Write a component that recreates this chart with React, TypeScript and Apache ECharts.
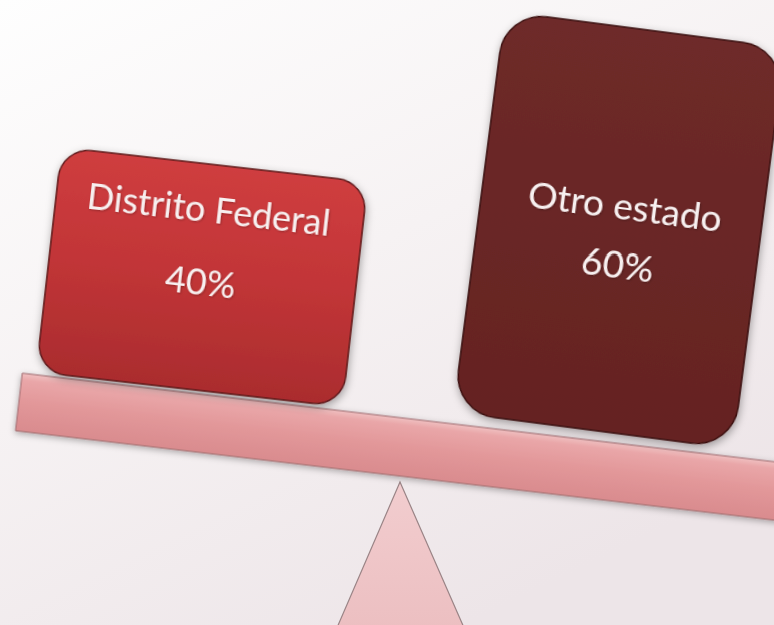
import React, { useEffect, useRef } from "react";
import * as echarts from "echarts";

const categories = ["Distrito Federal", "Otro estado"];
const values = [40, 60];
const unit = "%";

const W = 774;
const H = 625;
const DEG = Math.PI / 180;

function lin(x: number, y: number, x2: number, y2: number, stops: [number, string][]) {
  return new echarts.graphic.LinearGradient(
    x, y, x2, y2,
    stops.map(([offset, color]) => ({ offset, color }))
  );
}

function box(
  cx: number, cy: number, w: number, h: number, r: number, ang: number,
  fill: any, stroke: string, name: string, val: number,
  t1y: number, t2y: number, tx: number, fs: number
) {
  const textStyle = {
    fill: "#f7f0f0",
    fontSize: fs,
    fontFamily: "Lato, 'Open Sans', sans-serif",
    align: "center",
    verticalAlign: "middle",
    textShadowColor: "rgba(0,0,0,0.25)",
    textShadowBlur: 2,
    textShadowOffsetX: 1,
    textShadowOffsetY: 1,
  };
  return {
    type: "group",
    x: cx,
    y: cy,
    rotation: -ang * DEG,
    children: [
      {
        type: "rect",
        shape: { x: -w / 2, y: -h / 2, width: w, height: h, r },
        style: {
          fill,
          stroke,
          lineWidth: 1.5,
          shadowBlur: 8,
          shadowColor: "rgba(0,0,0,0.35)",
          shadowOffsetX: 1,
          shadowOffsetY: 3,
        },
      },
      { type: "text", x: tx, y: t1y, style: { ...textStyle, text: name } },
      { type: "text", x: tx, y: t2y, style: { ...textStyle, text: `${val}${unit}` } },
    ],
  };
}

export default function App() {
  const ref = useRef<HTMLDivElement>(null);
  useEffect(() => {
    const chart = echarts.init(ref.current!, null, { renderer: "svg", width: W, height: H });
    const beamAng = 6.7;
    const option: any = {
      animation: false,
      graphic: {
        elements: [
          {
            type: "rect",
            shape: { x: 0, y: 0, width: W, height: H },
            style: { fill: lin(0, 0, 0.6, 1, [[0, "#fefefe"], [0.5, "#f6f2f3"], [1, "#ede5e8"]]) },
            silent: true,
          },
          {
            type: "polygon",
            shape: { points: [[400, 482], [336, 630], [465, 630]] },
            style: {
              fill: lin(0, 0, 0, 1, [[0, "#f2cdcf"], [1, "#ecbfc1"]]),
              stroke: "#9a8486",
              lineWidth: 1.2,
            },
          },
          {
            type: "group",
            x: 19,
            y: 401,
            rotation: -beamAng * DEG,
            children: [
              {
                type: "rect",
                shape: { x: 0, y: -28, width: 820, height: 58 },
                style: {
                  fill: lin(0, 0, 0, 1, [
                    [0, "#f0c0c1"],
                    [0.12, "#e9a6a8"],
                    [0.5, "#e29799"],
                    [1, "#d98b8e"],
                  ]),
                  stroke: "#9e6b6e",
                  lineWidth: 1,
                  shadowBlur: 6,
                  shadowColor: "rgba(0,0,0,0.3)",
                  shadowOffsetY: 2,
                },
              },
            ],
          },
          box(
            202, 277, 308, 226, 30, 6.5,
            lin(0, 0, 0, 1, [[0, "#cf3d3f"], [0.5, "#c13537"], [1, "#aa2c2e"]]),
            "#5e1a1b",
            categories[0], values[0], -69, 4, -1, 36
          ),
          box(
            619, 230, 282, 404, 42, 7.4,
            lin(0, 0, 0, 1, [[0, "#6e2a29"], [1, "#652322"]]),
            "#3a1010",
            categories[1], values[1], -25, 33, 3, 37
          ),
        ],
      },
    };
    chart.setOption(option);
    return () => chart.dispose();
  }, []);
  return (
    <div
      ref={ref}
      style={{ position: "absolute", left: 0, top: 0, width: W, height: H }}
    />
  );
}
